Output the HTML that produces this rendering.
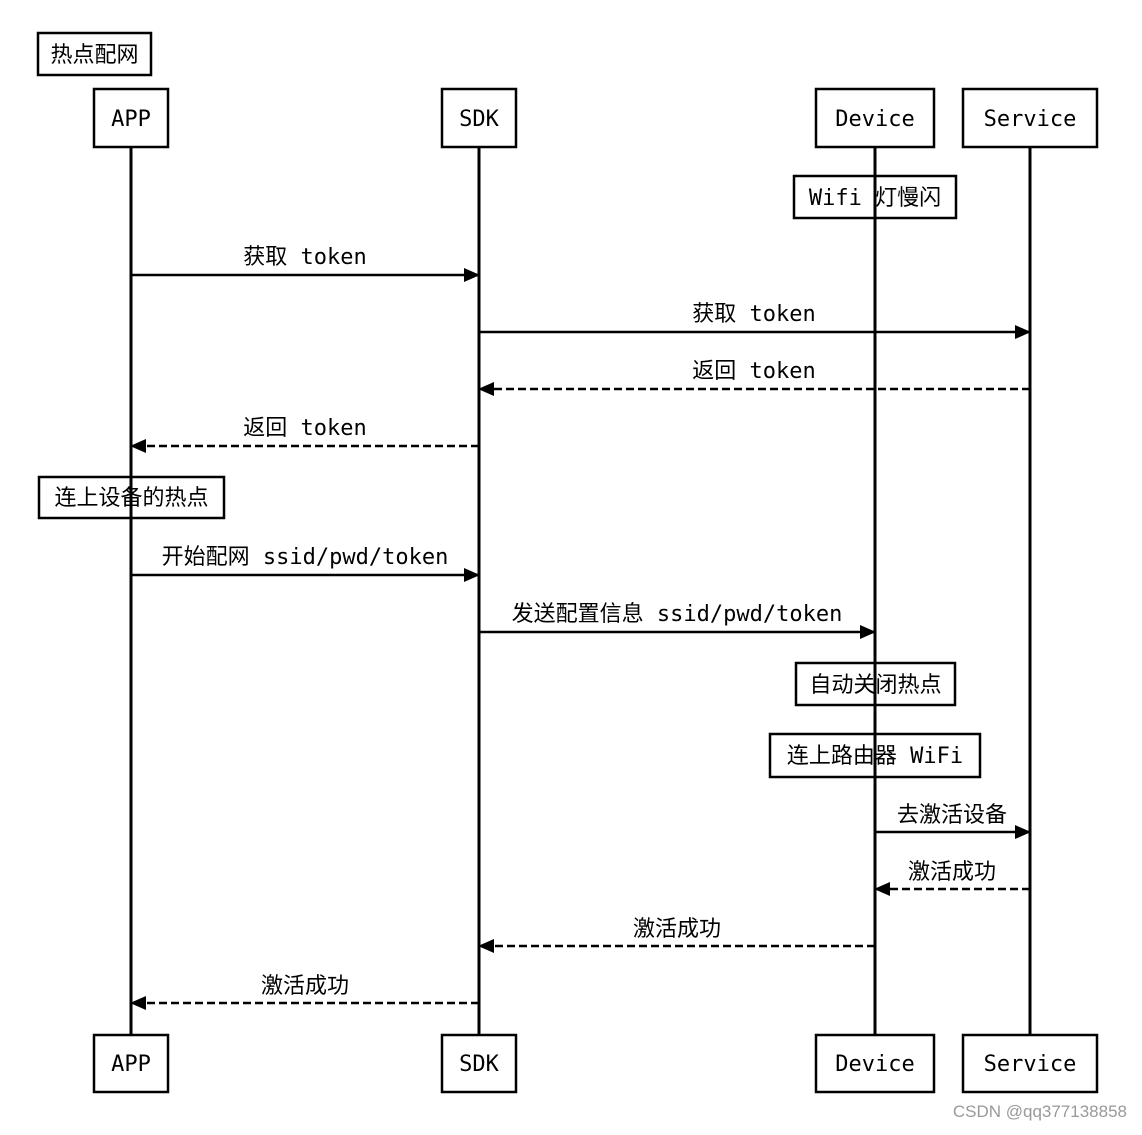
<!DOCTYPE html>
<html><head><meta charset="utf-8"><style>
html,body{margin:0;padding:0;background:#fff;}
svg text{font-family:"DejaVu Sans Mono","Liberation Mono","Noto Sans CJK SC",monospace;font-size:22px;fill:#000;}
</style></head><body>
<svg width="1142" height="1130" viewBox="0 0 1142 1130" xmlns="http://www.w3.org/2000/svg">
<defs>
<marker id="a" markerWidth="16" markerHeight="14" refX="15" refY="7" orient="auto" markerUnits="userSpaceOnUse">
<path d="M0,0 L16,7 L0,14 z" fill="#000"/></marker>
</defs>
<g fill="#fff" stroke="#000" stroke-width="2.5">
<rect x="38" y="33" width="113" height="42"/>
<rect x="94" y="89" width="74" height="58"/>
<rect x="442" y="89" width="74" height="58"/>
<rect x="816" y="89" width="118" height="58"/>
<rect x="963" y="89" width="134" height="58"/>
<rect x="94" y="1035" width="74" height="57"/>
<rect x="442" y="1035" width="74" height="57"/>
<rect x="816" y="1035" width="118" height="57"/>
<rect x="963" y="1035" width="134" height="57"/>
<rect x="794" y="176" width="162" height="42"/>
<rect x="39" y="477" width="185" height="41"/>
<rect x="796" y="663" width="159" height="42"/>
<rect x="770" y="734" width="210" height="43"/>
</g>
<g stroke="#000" stroke-width="3">
<line x1="131" y1="147" x2="131" y2="1035"/>
<line x1="479" y1="147" x2="479" y2="1035"/>
<line x1="875" y1="147" x2="875" y2="1035"/>
<line x1="1030" y1="147" x2="1030" y2="1035"/>
</g>
<g stroke="#000" stroke-width="2.5" fill="none" marker-end="url(#a)">
<line x1="131" y1="275" x2="479" y2="275"/>
<line x1="479" y1="332" x2="1030" y2="332"/>
<line x1="1030" y1="389" x2="479" y2="389" stroke-dasharray="8,4"/>
<line x1="479" y1="446" x2="131" y2="446" stroke-dasharray="8,4"/>
<line x1="131" y1="575" x2="479" y2="575"/>
<line x1="479" y1="632" x2="875" y2="632"/>
<line x1="875" y1="832" x2="1030" y2="832"/>
<line x1="1030" y1="889" x2="875" y2="889" stroke-dasharray="8,4"/>
<line x1="875" y1="946" x2="479" y2="946" stroke-dasharray="8,4"/>
<line x1="479" y1="1003" x2="131" y2="1003" stroke-dasharray="8,4"/>
</g>
<g text-anchor="middle">
<text x="94.5" y="62">热点配网</text>
<text x="131" y="126">APP</text>
<text x="479" y="126">SDK</text>
<text x="875" y="126">Device</text>
<text x="1030" y="126">Service</text>
<text x="131" y="1071">APP</text>
<text x="479" y="1071">SDK</text>
<text x="875" y="1071">Device</text>
<text x="1030" y="1071">Service</text>
<text x="875" y="205">Wifi 灯慢闪</text>
<text x="131.5" y="505">连上设备的热点</text>
<text x="875.5" y="692">自动关闭热点</text>
<text x="875" y="763">连上路由器 WiFi</text>
<text x="305" y="264">获取 token</text>
<text x="754" y="321">获取 token</text>
<text x="754" y="378">返回 token</text>
<text x="305" y="435">返回 token</text>
<text x="305" y="564">开始配网 ssid/pwd/token</text>
<text x="677" y="621">发送配置信息 ssid/pwd/token</text>
<text x="952" y="822">去激活设备</text>
<text x="952" y="879">激活成功</text>
<text x="677" y="936">激活成功</text>
<text x="305" y="993">激活成功</text>
</g>
<text x="1127" y="1117" text-anchor="end" style="font-family:'Liberation Sans',sans-serif;font-size:17px;fill:#999;">CSDN @qq377138858</text>
</svg>
</body></html>
